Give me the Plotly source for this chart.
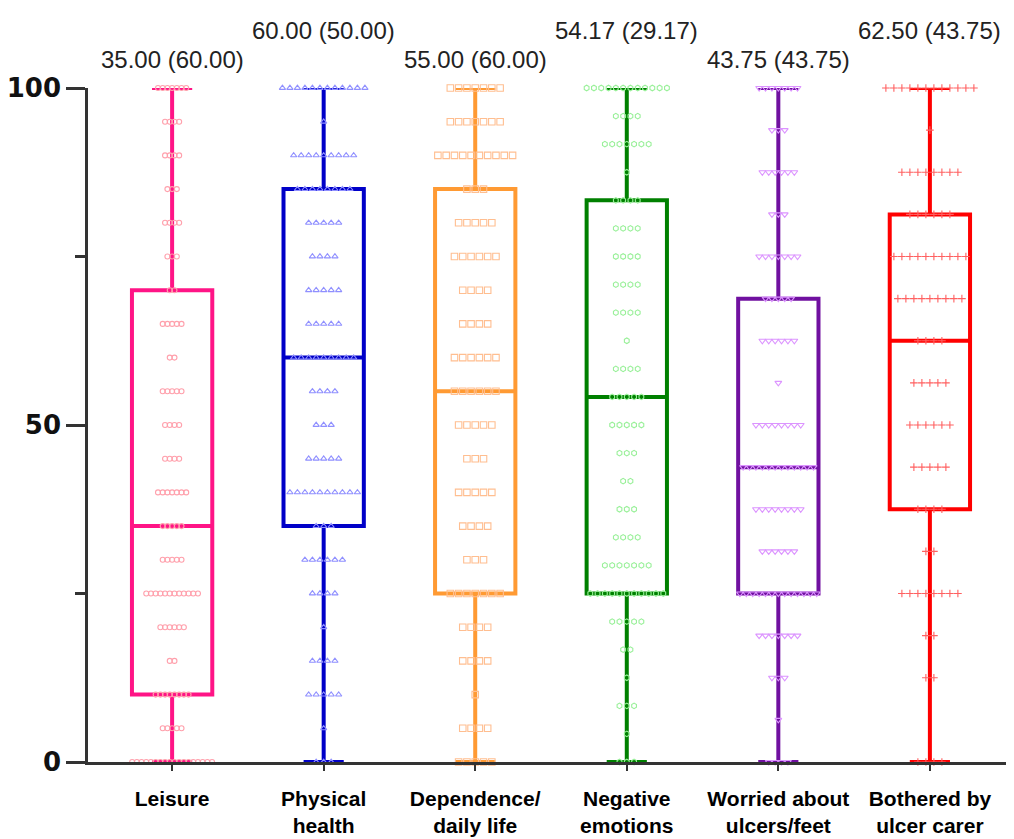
import plotly.graph_objects as go

categories = ["Leisure", "Physical<br>health", "Dependence/<br>daily life",
              "Negative<br>emotions", "Worried about<br>ulcers/feet", "Bothered by<br>ulcer carer"]
summary_labels = ["35.00 (60.00)", "60.00 (50.00)", "55.00 (60.00)",
                  "54.17 (29.17)", "43.75 (43.75)", "62.50 (43.75)"]

q1 = [10, 35, 25, 25, 25, 37.5]
median = [35, 60, 55, 54.17, 43.75, 62.5]
q3 = [70, 85, 85, 83.33, 68.75, 81.25]
mins = [0, 0, 0, 0, 0, 0]
maxs = [100, 100, 100, 100, 100, 100]

leisure_values = [100, 95, 90, 85, 80, 75, 70, 65, 60, 55, 50, 45, 40, 35, 30, 25, 20, 15, 10, 5, 0]
leisure_counts = [7, 4, 4, 3, 4, 3, 2, 5, 2, 5, 4, 4, 7, 5, 5, 12, 6, 2, 8, 5, 18]

physical_values = [100, 95, 90, 85, 80, 75, 70, 65, 60, 55, 50, 45, 40, 35, 30, 25, 20, 15, 10, 5, 0]
physical_counts = [12, 1, 9, 8, 5, 4, 5, 5, 9, 4, 3, 5, 10, 3, 6, 4, 1, 4, 5, 1, 3]

dependence_values = [100, 95, 90, 85, 80, 75, 70, 65, 60, 55, 50, 45, 40, 35, 30, 25, 20, 15, 10, 5, 0]
dependence_counts = [7, 7, 10, 3, 5, 6, 4, 4, 6, 6, 5, 3, 5, 4, 3, 7, 4, 4, 1, 4, 5]

negative_values = [100, 95.83, 91.67, 87.5, 83.33, 79.17, 75, 70.83, 66.67, 62.5, 58.33, 54.17,
                   50, 45.83, 41.67, 37.5, 33.33, 29.17, 25, 20.83, 16.67, 12.5, 8.33, 4.17, 0]
negative_counts = [12, 4, 7, 1, 4, 4, 4, 4, 4, 1, 4, 5, 5, 3, 2, 3, 4, 7, 11, 5, 2, 1, 3, 1, 3]

worried_values = [100, 93.75, 87.5, 81.25, 75, 68.75, 62.5, 56.25, 50, 43.75, 37.5, 31.25,
                  25, 18.75, 12.5, 6.25, 0]
worried_counts = [7, 3, 6, 3, 7, 5, 6, 1, 8, 12, 8, 6, 13, 7, 3, 1, 4]

bothered_values = [100, 93.75, 87.5, 81.25, 75, 68.75, 62.5, 56.25, 50, 43.75, 37.5, 31.25,
                   25, 18.75, 12.5, 0]
bothered_counts = [12, 1, 8, 6, 10, 9, 4, 5, 6, 5, 4, 2, 8, 2, 2, 4]

all_values = [leisure_values, physical_values, dependence_values,
              negative_values, worried_values, bothered_values]
all_counts = [leisure_counts, physical_counts, dependence_counts,
              negative_counts, worried_counts, bothered_counts]

box_colors = ["#FF1486", "#0000C8", "#FF9A33", "#008000", "#7010A0", "#FF0000"]
point_colors = ["#FFA0AC", "#9090FF", "#FFBE90", "#99F099", "#DC94FF", "#FF6060"]
point_symbols = ["circle-open", "triangle-up-open", "square-open",
                 "hexagon-open", "triangle-down-open", "cross-thin-open"]
point_sizes = [5, 5.5, 6.5, 5.5, 6, 5.5]
point_spacing_px = [4.7, 7.5, 8.3, 7.3, 6.4, 8.0]

OFF = 8  # page body offset
W, H = 1014 - OFF, 839 - OFF
ml, mr, mt, mb = 88 - OFF, 0, 88 - OFF, 77
xr = [-0.555, 5.555]
px_per_unit = (W - ml - mr) / (xr[1] - xr[0])
plot_h = H - mt - mb

fig = go.Figure()

for i in range(len(categories)):
    fig.add_trace(go.Box(
        x=[i], q1=[q1[i]], median=[median[i]], q3=[q3[i]],
        lowerfence=[mins[i]], upperfence=[maxs[i]],
        width=0.53, whiskerwidth=0.5, boxpoints=False,
        line=dict(color=box_colors[i], width=4),
        fillcolor="rgba(0,0,0,0)", showlegend=False, hoverinfo="skip",
    ))

for i in range(len(categories)):
    xs, ys = [], []
    step = point_spacing_px[i] / px_per_unit
    for v, n in zip(all_values[i], all_counts[i]):
        for k in range(n):
            xs.append(i + (k - (n - 1) / 2) * step)
            ys.append(v)
    fig.add_trace(go.Scatter(
        x=xs, y=ys, mode="markers", cliponaxis=False, showlegend=False,
        marker=dict(symbol=point_symbols[i], size=point_sizes[i],
                    color=point_colors[i], line=dict(color=point_colors[i], width=1.1)),
        hoverinfo="skip",
    ))

for i, lab in enumerate(summary_labels):
    px_above = 28 if i % 2 == 0 else 58
    fig.add_annotation(x=i, y=1 + px_above / plot_h, xref="x", yref="paper",
                       text=lab, showarrow=False, yanchor="middle",
                       font=dict(family="Liberation Sans", size=24, color="#222222"))

fig.update_xaxes(range=xr, tickvals=list(range(len(categories))), ticktext=categories,
                 showline=True, linecolor="#333333", linewidth=2.5,
                 ticks="outside", ticklen=6, tickwidth=2, tickcolor="#333333",
                 ticklabelstandoff=10,
                 showgrid=False, zeroline=False,
                 tickfont=dict(family="Liberation Sans", size=21, color="#000000", weight="bold"))
fig.update_yaxes(range=[0, 100], tickvals=[0, 50, 100],
                 showline=True, linecolor="#333333", linewidth=2.5,
                 ticks="outside", ticklen=19, tickwidth=2.5, tickcolor="#333333",
                 minor=dict(tickvals=[25, 75], ticks="outside", ticklen=10, tickwidth=2.5,
                            tickcolor="#333333"),
                 showgrid=False, zeroline=False,
                 tickfont=dict(family="DejaVu Sans", size=26, color="#111111", weight="bold"))

fig.update_layout(width=W, height=H, margin=dict(l=ml, r=mr, t=mt, b=mb),
                  plot_bgcolor="white", paper_bgcolor="white")

fig.write_html("out.html")
